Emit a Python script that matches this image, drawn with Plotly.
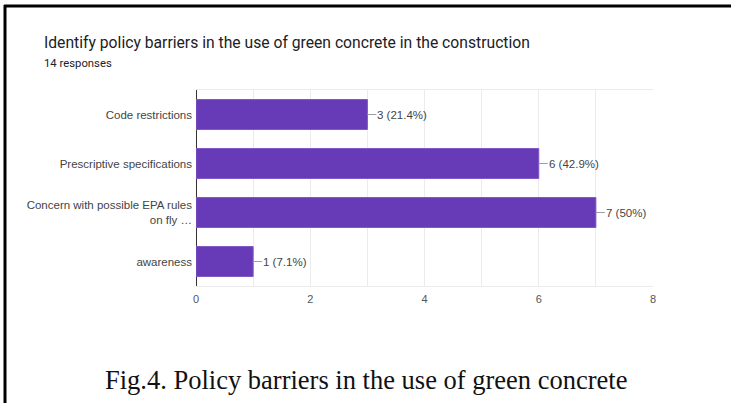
import plotly.graph_objects as go

# Survey results: policy barriers to using green concrete
categories = [
    "Code restrictions",
    "Prescriptive specifications",
    "Concern with possible EPA rules<br>on fly …",
    "awareness",
]
counts = [3, 6, 7, 1]
total_responses = 14
x_ticks = [0, 2, 4, 6, 8]

W, H = 731, 403
L, R, T, B = 196, 78, 90, 117
PW, PH = W - L - R, H - T - B


def px_x(p):
    return (p - L) / PW


def px_y(p):
    return 1 - (p - T) / PH


def pct_label(n):
    p = f"{100 * n / total_responses:.1f}"
    if p.endswith(".0"):
        p = p[:-2]
    return f"{n} ({p}%)"


fig = go.Figure(
    go.Bar(
        x=counts,
        y=categories,
        orientation="h",
        marker=dict(color="#673ab7", line=dict(color="#7e57c2", width=1)),
        width=0.61,
        hoverinfo="skip",
    )
)

annotations = []
for cat, n in zip(categories, counts):
    annotations.append(
        dict(
            x=n, y=cat, xref="x", yref="y",
            text=pct_label(n),
            showarrow=True, arrowhead=0, arrowwidth=1, arrowcolor="#9e9e9e",
            ax=9, ay=0, xanchor="left", borderpad=0,
            font=dict(family="Liberation Sans, Arial", size=11.5, color="#444444"),
        )
    )

annotations += [
    dict(
        x=px_x(42), y=px_y(43), xref="paper", yref="paper",
        text="Identify policy barriers in the use of green concrete in the construction",
        showarrow=False, xanchor="left", yanchor="middle",
        font=dict(family="Roboto", size=15.7, color="#202124"),
    ),
    dict(
        x=px_x(42), y=px_y(63), xref="paper", yref="paper",
        text="14 responses",
        showarrow=False, xanchor="left", yanchor="middle",
        font=dict(family="Roboto", size=11.3, color="#202124"),
    ),
    dict(
        x=px_x(366), y=px_y(380), xref="paper", yref="paper",
        text="Fig.4. Policy barriers in the use of green concrete",
        showarrow=False, xanchor="center", yanchor="middle",
        font=dict(family="Liberation Serif", size=26.5, color="#111111"),
    ),
]

shapes = [
    # frame: top and left rules
    dict(type="line", xref="paper", yref="paper",
         x0=px_x(4), x1=px_x(731), y0=px_y(6), y1=px_y(6),
         line=dict(color="black", width=3)),
    dict(type="line", xref="paper", yref="paper",
         x0=px_x(5), x1=px_x(5), y0=px_y(5), y1=px_y(403),
         line=dict(color="black", width=3)),
]

fig.update_layout(
    width=W, height=H,
    margin=dict(l=L, r=R, t=T, b=B, pad=0),
    paper_bgcolor="white", plot_bgcolor="white",
    showlegend=False,
    annotations=annotations,
    shapes=shapes,
    xaxis=dict(
        range=[0, 8], tickvals=x_ticks, ticktext=[str(v) for v in x_ticks],
        showgrid=True, gridcolor="#ebebeb", gridwidth=1,
        minor=dict(dtick=1, tick0=0, showgrid=True, gridcolor="#ebebeb", gridwidth=1),
        zeroline=True, zerolinecolor="#333333", zerolinewidth=1,
        showline=True, linecolor="#ebebeb", linewidth=1, mirror=True,
        tickfont=dict(family="Liberation Sans, Arial", size=11, color="#555555"),
        ticks="", ticklabelstandoff=3, fixedrange=True,
    ),
    yaxis=dict(
        autorange="reversed", showgrid=False, zeroline=False, showline=False,
        tickfont=dict(family="Liberation Sans, Arial", size=11.5, color="#444444"),
        ticks="", ticklabelstandoff=3, fixedrange=True,
    ),
)

fig.write_html("out.html", config=dict(displayModeBar=False))
